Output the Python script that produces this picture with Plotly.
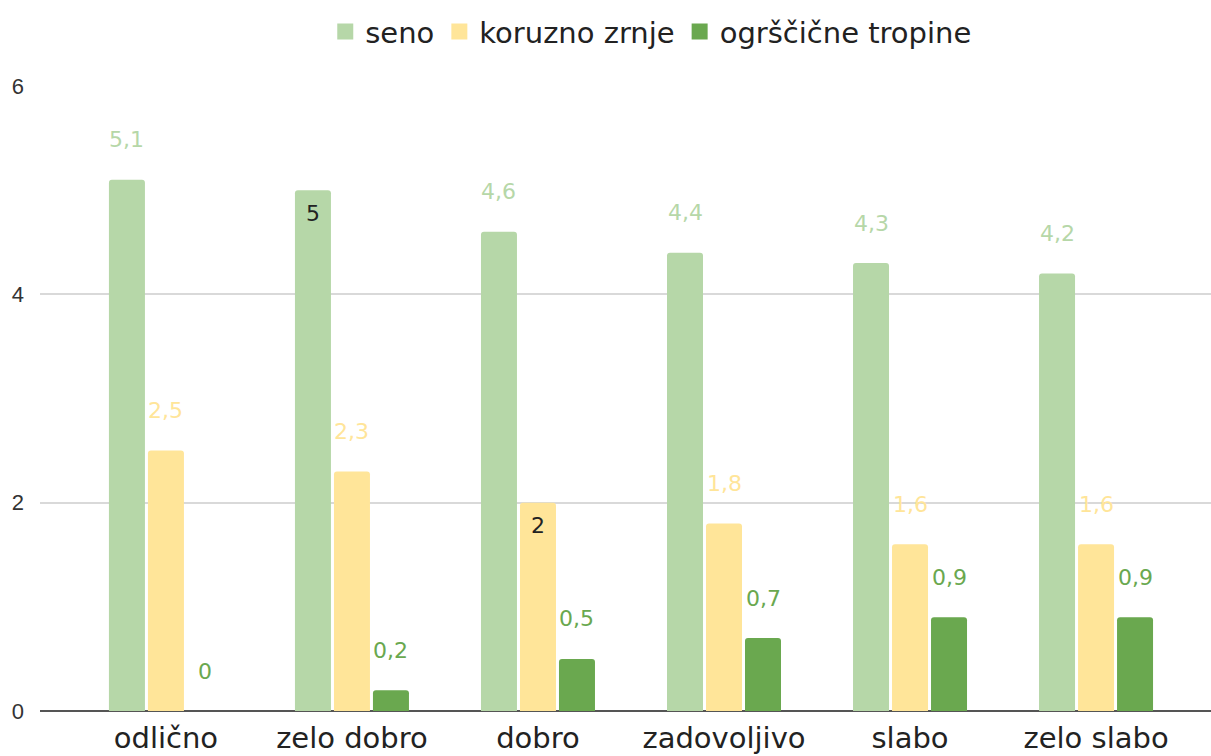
import plotly.graph_objects as go

categories = ["odlično", "zelo dobro", "dobro", "zadovoljivo", "slabo", "zelo slabo"]
seno = [5.1, 5.0, 4.6, 4.4, 4.3, 4.2]
koruzno = [2.5, 2.3, 2.0, 1.8, 1.6, 1.6]
tropine = [0.0, 0.2, 0.5, 0.7, 0.9, 0.9]
series_names = ["seno", "koruzno zrnje", "ogrščične tropine"]
bar_colors = ["#b6d7a8", "#ffe599", "#6aa84f"]
label_colors = ["#b6d7a8", "#ffe599", "#6aa84f"]
# labels drawn inside the bar top (series index, category index)
inside_labels = {(0, 1), (1, 2)}

series = [seno, koruzno, tropine]

LABEL_FONT = "DejaVu Sans, sans-serif"
TICK_FONT = "Liberation Sans, Arial, sans-serif"

fig = go.Figure()
for name, vals, col in zip(series_names, series, bar_colors):
    fig.add_trace(go.Bar(x=categories, y=vals, name=name, marker_color=col,
                         marker_line_width=0, hoverinfo="skip", showlegend=False))
# legend entries with larger square swatches
for name, col in zip(series_names, bar_colors):
    fig.add_trace(go.Scatter(x=[None], y=[None], mode="markers", name=name,
                             marker=dict(symbol="square", size=19, color=col),
                             showlegend=True, hoverinfo="skip"))

def fmt(v):
    return ("%g" % v).replace(".", ",")

step = 39  # px between bars in a group
for si, vals in enumerate(series):
    for ci, v in enumerate(vals):
        inside = (si, ci) in inside_labels
        fig.add_annotation(
            x=categories[ci], y=v, text=fmt(v), showarrow=False,
            xshift=(si - 1) * step, yshift=(-23 if inside else 40),
            yanchor="middle",
            font=dict(family=LABEL_FONT, size=22,
                      color="#222222" if inside else label_colors[si]),
        )

fig.update_layout(
    width=1211, height=756,
    paper_bgcolor="white", plot_bgcolor="white",
    margin=dict(l=40, r=0, t=86, b=45),
    barmode="group", bargap=0.371, bargroupgap=0.077,
    barcornerradius=3,
    showlegend=True,
    legend=dict(orientation="h", x=0.522, xanchor="center", y=0.958, yanchor="middle",
                yref="container",
                font=dict(family=LABEL_FONT, size=29, color="#222222"),
                itemwidth=30, traceorder="normal"),
    xaxis=dict(range=[-0.677, 5.618], showgrid=False, showline=False,
               tickfont=dict(family=LABEL_FONT, size=29, color="#222222"),
               ticks="", fixedrange=True, automargin=False, ticklabelstandoff=7),
    yaxis=dict(range=[0, 6], tickvals=[0, 2, 4, 6], ticktext=["0", "2", "4", "6"],
               showgrid=True, gridcolor="#d9d9d9", gridwidth=1.5,
               zeroline=True, zerolinecolor="#555555", zerolinewidth=2,
               tickfont=dict(family=TICK_FONT, size=22, color="#333333"),
               ticklabelstandoff=15, fixedrange=True, automargin=False),
)

fig.write_html("out.html", config={"displayModeBar": False},
               post_script="document.body.style.margin='0';")
